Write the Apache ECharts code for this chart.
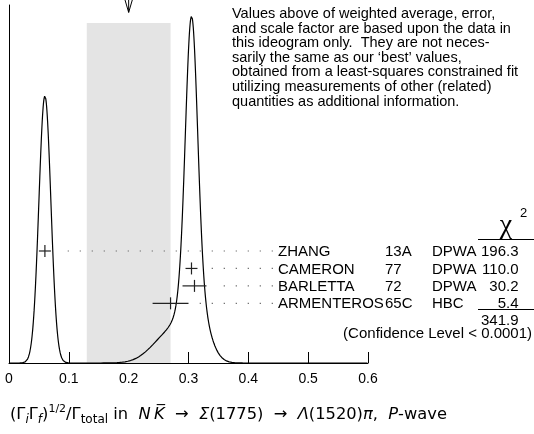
<!DOCTYPE html>
<html>
<head>
<meta charset="utf-8">
<script src="https://cdn.jsdelivr.net/npm/echarts@6/dist/echarts.min.js"></script>
<style>html,body{margin:0;padding:0;background:#fff;}#c{width:534px;height:434px;}</style>
</head>
<body>
<div id="c"></div>
<script>
// ---- data ----
const measNames = ['ZHANG', 'CAMERON', 'BARLETTA', 'ARMENTEROS'];
const measRefs  = ['13A', '77', '72', '65C'];
const measTechs = ['DPWA', 'DPWA', 'DPWA', 'HBC'];
const measValues = [0.06, 0.305, 0.31, 0.27];
const measErrors = [0.01, 0.01, 0.02, 0.03];
const measChi2 = ['196.3', '110.0', '30.2', '5.4'];
const chi2Total = '341.9';
const confidenceText = '(Confidence Level < 0.0001)';
const weightedAvg = 0.2;
const weightedErr = 0.07;
const xTickValues = [0, 0.1, 0.2, 0.3, 0.4, 0.5, 0.6];
const noteLines = [
  'Values above of weighted average, error,',
  'and scale factor are based upon the data in',
  'this ideogram only.  They are not neces-',
  'sarily the same as our \u2018best\u2019 values,',
  'obtained from a least-squares constrained fit',
  'utilizing measurements of other (related)',
  'quantities as additional information.'
];

// ideogram: each measurement a Gaussian with area proportional to 1/error
const minErr = Math.min.apply(null, measErrors);
const curve = [];
for (let k = 0; k <= 1200; k++) {
  const x = k * 0.0005;
  let y = 0;
  for (let i = 0; i < measValues.length; i++) {
    const z = (x - measValues[i]) / measErrors[i];
    y += Math.pow(minErr / measErrors[i], 2) * Math.exp(-0.5 * z * z);
  }
  curve.push([x, y]);
}

const yMax = 1.34;
const bandTopFrac = 0.95;
const F = 'Liberation Sans, Arial, sans-serif';

const chart = echarts.init(document.getElementById('c'), null, {renderer: 'canvas'});

const measData = measValues.map((v, i) => [v, measErrors[i], i]);

chart.setOption({
  animation: false,
  backgroundColor: '#fff',
  grid: {left: 9, right: 166, top: 5, bottom: 71},
  xAxis: {
    type: 'value', min: 0, max: 0.6, interval: 0.1,
    axisLine: {show: true, lineStyle: {color: '#000', width: 1}},
    axisTick: {show: true, inside: true, length: 11, lineStyle: {color: '#000', width: 1}},
    axisLabel: {
      color: '#000', fontSize: 14, fontFamily: F, margin: 9,
      formatter: v => (xTickValues.indexOf(+v.toFixed(1)) >= 0 ? (v === 0 ? '0' : v.toFixed(1)) : '')
    },
    splitLine: {show: false}
  },
  yAxis: [
    {type: 'value', min: 0, max: yMax,
     axisLine: {show: true, lineStyle: {color: '#000', width: 1}},
     axisTick: {show: false}, axisLabel: {show: false}, splitLine: {show: false}},
    {type: 'value', min: -14.1, max: 6.42, inverse: true, show: false,
     axisLine: {show: false}, splitLine: {show: false}}
  ],
  series: [
    { // weighted average band + arrow
      type: 'custom', z: 1, silent: true,
      xAxisIndex: 0, yAxisIndex: 0,
      data: [[weightedAvg, weightedErr]],
      renderItem: function (params, api) {
        const a = api.value(0), e = api.value(1);
        const p0 = api.coord([a - e, 0]);
        const p1 = api.coord([a + e, yMax * bandTopFrac]);
        const pc = api.coord([a, yMax * bandTopFrac]);
        const tipY = p1[1] - 10.5;
        return {type: 'group', children: [
          {type: 'rect', shape: {x: p0[0], y: p1[1], width: p1[0] - p0[0], height: p0[1] - p1[1]},
           style: {fill: '#e4e4e4'}},
          {type: 'line', shape: {x1: pc[0], y1: tipY - 20, x2: pc[0], y2: tipY}, style: {stroke: '#000', lineWidth: 1}},
          {type: 'polyline', shape: {points: [[pc[0] - 3.8, tipY - 13], [pc[0], tipY], [pc[0] + 3.8, tipY - 13]]},
           style: {stroke: '#000', lineWidth: 1, fill: null}}
        ]};
      }
    },
    {
      type: 'line', z: 2, data: curve, showSymbol: false, symbol: 'none', silent: true,
      lineStyle: {color: '#000', width: 1.2}, xAxisIndex: 0, yAxisIndex: 0
    },
    { // measurements: error crosses, dotted leaders, table rows
      type: 'custom', z: 3, silent: true,
      xAxisIndex: 0, yAxisIndex: 1,
      data: measData,
      renderItem: function (params, api) {
        const v = api.value(0), e = api.value(1), row = api.value(2);
        const i = params.dataIndex;
        const c = api.coord([v, row]);
        const l = api.coord([v - e, row]);
        const r = api.coord([v + e, row]);
        const kids = [
          {type: 'line', shape: {x1: l[0], y1: c[1], x2: r[0], y2: c[1]}, style: {stroke: '#222', lineWidth: 1.2}},
          {type: 'line', shape: {x1: c[0], y1: c[1] - 6, x2: c[0], y2: c[1] + 6}, style: {stroke: '#222', lineWidth: 1.2}}
        ];
        // dotted leader on a fixed 12 px pitch
        let d = 8.3 + 12 * Math.ceil((r[0] + 8 - 8.3) / 12);
        for (; d <= 273; d += 12) {
          kids.push({type: 'rect', shape: {x: d - 0.6, y: c[1] - 0.6, width: 1.2, height: 1.2}, style: {fill: '#666'}});
        }
        const ts = {fontSize: 15, fontFamily: F, fill: '#000', verticalAlign: 'middle'};
        kids.push({type: 'text', style: Object.assign({text: measNames[i], x: 278, y: c[1] + 1, align: 'left'}, ts)});
        kids.push({type: 'text', style: Object.assign({text: measRefs[i], x: 385, y: c[1] + 1, align: 'left'}, ts)});
        kids.push({type: 'text', style: Object.assign({text: measTechs[i], x: 432, y: c[1] + 1, align: 'left'}, ts)});
        kids.push({type: 'text', style: Object.assign({text: measChi2[i], x: 518.5, y: c[1] + 1, align: 'right'}, ts)});
        return {type: 'group', children: kids};
      }
    }
  ],
  graphic: [
    {type: 'text', left: 232, top: 6.5, silent: true,
     style: {text: noteLines.join('\n'), fontSize: 14.5, lineHeight: 14.6, fontFamily: F, fill: '#000'}},
    {type: 'text', x: 506, y: 226, silent: true,
     style: {text: '\u03c7', fontSize: 28, fontFamily: 'Liberation Serif, serif', fill: '#000', align: 'center', verticalAlign: 'middle'}},
    {type: 'text', x: 523.5, y: 213.5, silent: true,
     style: {text: '2', fontSize: 13, fontFamily: F, fill: '#000', align: 'center', verticalAlign: 'middle'}},
    {type: 'line', silent: true, shape: {x1: 478, y1: 239.5, x2: 534, y2: 239.5}, style: {stroke: '#000', lineWidth: 1}},
    {type: 'line', silent: true, shape: {x1: 478, y1: 309.5, x2: 534, y2: 309.5}, style: {stroke: '#000', lineWidth: 1}},
    {type: 'text', x: 518.5, y: 321, silent: true,
     style: {text: chi2Total, fontSize: 15, fontFamily: F, fill: '#000', align: 'right', verticalAlign: 'middle'}},
    {type: 'text', x: 532, y: 334, silent: true,
     style: {text: confidenceText, fontSize: 15, fontFamily: F, fill: '#000', align: 'right', verticalAlign: 'middle'}},
    {type: 'text', left: 10, top: 404, silent: true,
     style: {
       text: '{n|(\u0393}{si|i}{n|\u0393}{si|f}{n|)}{sup|1/2}{n|/\u0393}{sub|total}{n| in  }{it|N\u2009K\u0305}{n|  \u2192  }{it|\u03a3}{n|(1775)  \u2192  }{it|\u039b}{n|(1520)}{it|\u03c0}{n|,  }{it|P}{n|-wave}',
       rich: {
         n: {fontSize: 16.3, fontFamily: 'DejaVu Sans', fill: '#000', lineHeight: 22},
         it: {fontSize: 16.3, fontFamily: 'DejaVu Sans', fontStyle: 'italic', fill: '#000', lineHeight: 22},
         si: {fontSize: 12, fontFamily: 'DejaVu Sans', fontStyle: 'italic', fill: '#000', lineHeight: 12, verticalAlign: 'bottom'},
         sub: {fontSize: 12, fontFamily: 'DejaVu Sans', fill: '#000', lineHeight: 12, verticalAlign: 'bottom'},
         sup: {fontSize: 11, fontFamily: 'DejaVu Sans', fill: '#000', lineHeight: 7, verticalAlign: 'top'}
       }
     }}
  ]
});
</script>
</body>
</html>
